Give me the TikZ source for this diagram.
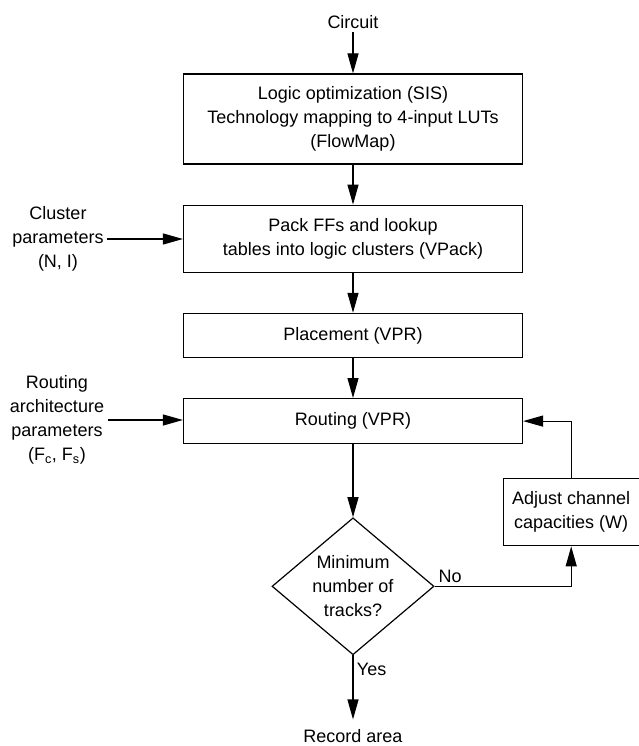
\documentclass[tikz,border=0pt]{standalone}
\usepackage{fontspec}
\setmainfont{Liberation Sans}
\usetikzlibrary{positioning}
\usetikzlibrary{graphs}
\usetikzlibrary{shapes.geometric}
\usetikzlibrary{arrows.meta}
\tikzset{>={Triangle[length=20pt,width=11pt]}}
\tikzset{stage/.style={draw,align=center,minimum width=339pt,inner sep=0pt}}
\tikzset{decision/.style={draw,diamond,aspect=1.18,align=center,minimum width=162pt,minimum height=137pt,inner sep=0pt}}
\tikzset{source/.style={align=center}}

\begin{document}
\begin{tikzpicture}[x=1pt,y=1pt,line width=1.2pt,font=\fontsize{18}{24}\selectfont]
            \useasboundingbox (0,0) rectangle (639,-746);
            \node (logic) [stage,minimum height=90pt] at (353,-119) {Logic optimization (SIS)\\Technology mapping to 4-input LUTs\\(FlowMap)};
            \node (circuit) [above=41pt of logic]                   {Circuit};
            \node (pack)  [stage,minimum height=67pt,below=40pt of logic] {Pack FFs and lookup\\tables into logic clusters (VPack)};
            \node (place) [stage,minimum height=44pt,below=40pt of pack]  {Placement (VPR)};
            \node (route) [stage,minimum height=45pt,below=40pt of place] {Routing (VPR)};
            \node (check) [decision,below=73pt of route]                  {Minimum\\number of\\tracks?};
            \node (record) [below=64pt of check,inner ysep=9pt]           {Record area};
            \node (adjust) [stage,minimum width=136pt,minimum height=67pt,right=68pt of check,yshift=74pt] {Adjust channel\\capacities (W)};
            \node (cluster) [source] at (58,-239) {Cluster\\parameters\\(N, I)};
            \node (arch)    [source] at (57,-420) {Routing\\architecture\\parameters\\(F\textsubscript{c}, F\textsubscript{s})};

            \graph{
                (circuit) -> (logic) -> (pack) -> (place) -> (route) -> (check) -> [edge node={node[right,pos=0.22]{Yes}}] (record);
            };
            \draw[->] (cluster.east) -- (cluster.east -| pack.west);
            \draw[->] (arch.east) -- (arch.east -| route.west);
            \draw[->] (check.east) -| node[above right,pos=0]{No} (adjust.south);
            \draw[->] (adjust.north) |- (route.east);
        \end{tikzpicture}
\end{document}
